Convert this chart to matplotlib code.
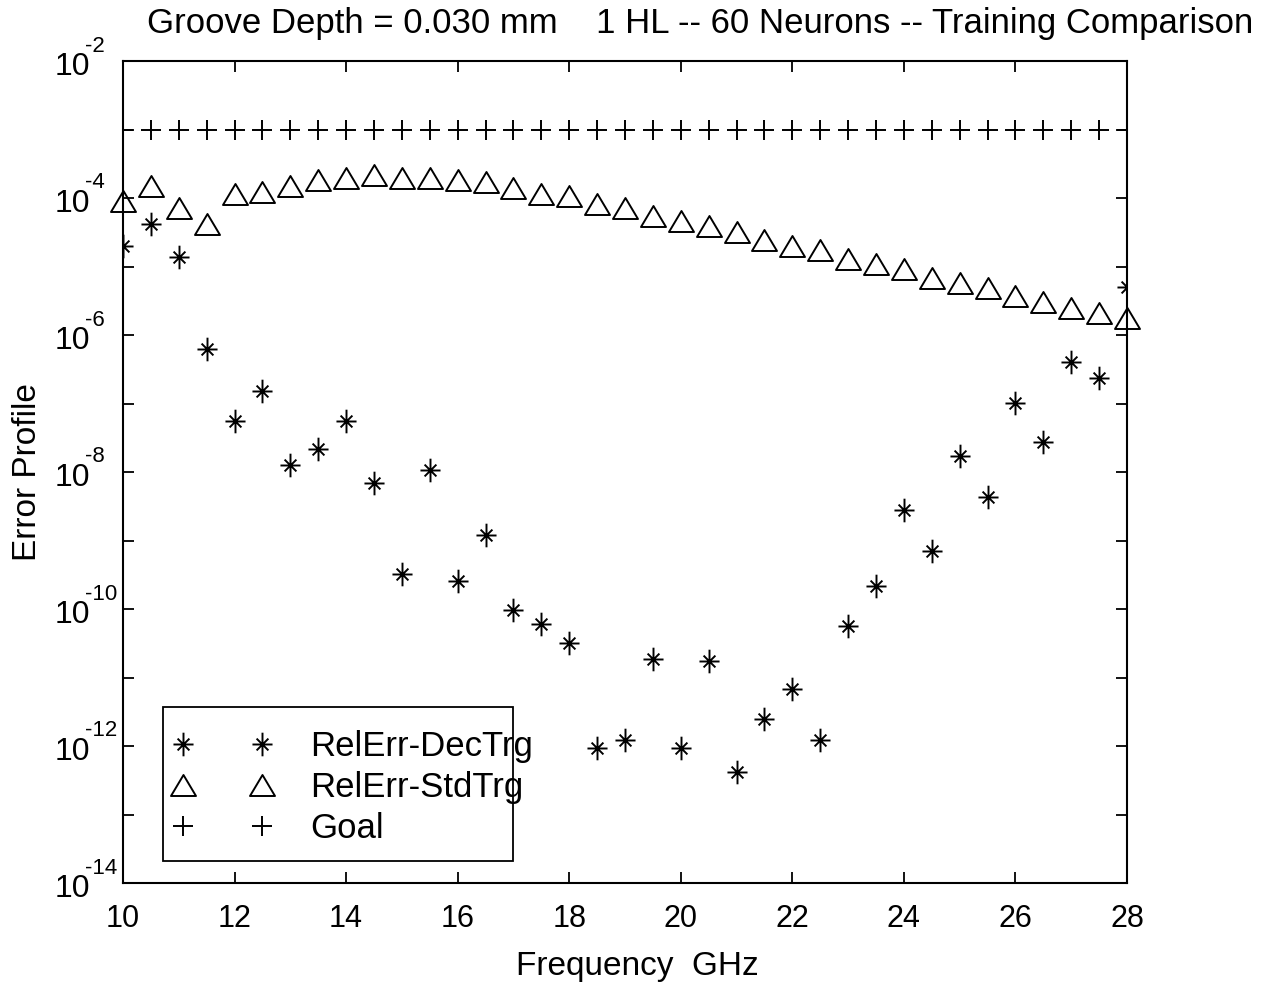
import math
import matplotlib
matplotlib.use("Agg")
import matplotlib.pyplot as plt
import matplotlib.transforms as mtransforms
from matplotlib.path import Path
from matplotlib.patches import Rectangle
from matplotlib.ticker import FixedLocator, NullFormatter

plt.rcParams['font.family'] = ['Liberation Sans', 'DejaVu Sans']

# ---------------- data ----------------
freq = [10.0, 10.5, 11.0, 11.5, 12.0, 12.5, 13.0, 13.5, 14.0, 14.5,
        15.0, 15.5, 16.0, 16.5, 17.0, 17.5, 18.0, 18.5, 19.0, 19.5,
        20.0, 20.5, 21.0, 21.5, 22.0, 22.5, 23.0, 23.5, 24.0, 24.5,
        25.0, 25.5, 26.0, 26.5, 27.0, 27.5, 28.0]

relerr_dectrg = [2.0e-5, 4.2e-5, 1.38e-5, 6.3e-7, 5.6e-8, 1.5e-7, 1.28e-8, 2.2e-8, 5.6e-8, 6.9e-9,
                 3.2e-10, 1.06e-8, 2.6e-10, 1.22e-9, 9.6e-11, 6.0e-11, 3.2e-11, 9.2e-13, 1.21e-12, 1.89e-11,
                 9.2e-13, 1.72e-11, 4.2e-13, 2.5e-12, 6.9e-12, 1.21e-12, 5.6e-11, 2.17e-10, 2.76e-9, 7.0e-10,
                 1.7e-8, 4.3e-9, 1.03e-7, 2.7e-8, 4.1e-7, 2.35e-7, 5.1e-6]

relerr_stdtrg = [9.1e-5, 1.49e-4, 7.2e-5, 4.2e-5, 1.16e-4, 1.21e-4, 1.5e-4, 1.83e-4, 1.96e-4, 2.14e-4,
                 1.98e-4, 1.98e-4, 1.85e-4, 1.7e-4, 1.39e-4, 1.14e-4, 1.06e-4, 8.1e-5, 7.1e-5, 5.5e-5,
                 4.6e-5, 3.9e-5, 3.2e-5, 2.45e-5, 1.99e-5, 1.73e-5, 1.27e-5, 1.08e-5, 9.1e-6, 6.8e-6,
                 5.8e-6, 4.9e-6, 3.7e-6, 3.0e-6, 2.5e-6, 2.1e-6, 1.75e-6]

goal = [1e-3, 1e-3, 1e-3, 1e-3, 1e-3, 1e-3, 1e-3, 1e-3, 1e-3, 1e-3,
        1e-3, 1e-3, 1e-3, 1e-3, 1e-3, 1e-3, 1e-3, 1e-3, 1e-3, 1e-3,
        1e-3, 1e-3, 1e-3, 1e-3, 1e-3, 1e-3, 1e-3, 1e-3, 1e-3, 1e-3,
        1e-3, 1e-3, 1e-3, 1e-3, 1e-3, 1e-3, 1e-3]

x_ticks = [10, 12, 14, 16, 18, 20, 22, 24, 26, 28]
y_exponents = [-14, -13, -12, -11, -10, -9, -8, -7, -6, -5, -4, -3, -2]
y_labeled_exponents = [-14, -12, -10, -8, -6, -4, -2]

series_labels = ['RelErr-DecTrg', 'RelErr-StdTrg', 'Goal']
title_text = 'Groove Depth = 0.030 mm    1 HL -- 60 Neurons -- Training Comparison'
x_label = 'Frequency  GHz'
y_label = 'Error Profile'

# ---------------- markers ----------------
star_path = Path(
    [(0, -1), (0, 1), (-0.85, 0), (0.85, 0),
     (-0.5, -0.5), (0.5, 0.5), (-0.5, 0.5), (0.5, -0.5)],
    [Path.MOVETO, Path.LINETO, Path.MOVETO, Path.LINETO,
     Path.MOVETO, Path.LINETO, Path.MOVETO, Path.LINETO])
tri_path = Path([(0, 0.84), (-1, -0.84), (1, -0.84), (0, 0.84)],
                [Path.MOVETO, Path.LINETO, Path.LINETO, Path.CLOSEPOLY])

# ---------------- figure ----------------
W, H = 1277, 984
fig = plt.figure(figsize=(W / 100, H / 100), dpi=100)
ax = fig.add_axes([123 / W, 1 - 883 / H, (1127 - 123) / W, (883 - 61) / H])

TICK_FS = 22
YBASE_FS = 23
YEXP_FS = 16
LABEL_FS = 24
TITLE_FS = 25
LEG_FS = 25

ax.plot(freq, relerr_dectrg, linestyle='none', marker=star_path, markersize=17,
        markerfacecolor='none', markeredgecolor='black', markeredgewidth=1.4,
        label=series_labels[0])
ax.plot(freq, relerr_stdtrg, linestyle='none', marker=tri_path, markersize=18,
        markerfacecolor='none', markeredgecolor='black', markeredgewidth=1.4,
        label=series_labels[1], clip_on=False)
ax.plot(freq, goal, linestyle='none', marker='+', markersize=15,
        markeredgecolor='black', markeredgewidth=1.4, label=series_labels[2])

ax.set_yscale('log')
ax.set_xlim(10, 28)
ax.set_ylim(1e-14, 1e-2)

ax.xaxis.set_major_locator(FixedLocator(x_ticks))
ax.xaxis.set_minor_locator(FixedLocator([]))
ax.set_xticklabels([str(t) for t in x_ticks])

ax.yaxis.set_major_locator(FixedLocator([10.0 ** e for e in y_exponents]))
ax.yaxis.set_minor_locator(FixedLocator([]))
ax.yaxis.set_major_formatter(NullFormatter())

ax.tick_params(axis='both', which='major', direction='in', length=8, width=1.3,
               top=True, right=True, labelsize=TICK_FS, color='black')
ax.tick_params(axis='x', pad=15)
for s in ax.spines.values():
    s.set_linewidth(1.5)

# y tick labels drawn as "10" + raised exponent (MATLAB style)
ytrans = ax.get_yaxis_transform()
base_tr = ytrans + mtransforms.ScaledTranslation(-33 / 100, -14 / 100, fig.dpi_scale_trans)
exp_tr = ytrans + mtransforms.ScaledTranslation(-38 / 100, 9.5 / 100, fig.dpi_scale_trans)
for e in y_labeled_exponents:
    ax.text(0, 10.0 ** e, '10', transform=base_tr, ha='right', va='baseline',
            fontsize=YBASE_FS, clip_on=False)
    ax.text(0, 10.0 ** e, '-%d' % abs(e), transform=exp_tr, ha='left', va='baseline',
            fontsize=YEXP_FS, clip_on=False)

ax.set_xlabel(x_label, fontsize=LABEL_FS)
ax.xaxis.set_label_coords((637 - 123) / 1004, -(951 - 883) / 822)
ax.set_ylabel(y_label, fontsize=LABEL_FS, va='center')
ax.yaxis.set_label_coords(-(123 - 28) / 1004, 0.5)

fig.text(700 / W, 1 - 33 / H, title_text, fontsize=TITLE_FS, ha='center', va='baseline')

leg = ax.legend(loc='upper left', bbox_to_anchor=((172.6 - 123) / 1004, (883 - 730) / 822),
                numpoints=2, frameon=False, fontsize=LEG_FS, handlelength=2.88,
                handletextpad=1.08, borderpad=0.0, borderaxespad=0.0, labelspacing=0.23)

fig.patches.append(Rectangle((163 / W, 1 - 861 / H), (513 - 163) / W, (861 - 707) / H,
                             transform=fig.transFigure, fill=False,
                             edgecolor='black', linewidth=1.3, zorder=5))

fig.savefig('out.png', dpi=100)
